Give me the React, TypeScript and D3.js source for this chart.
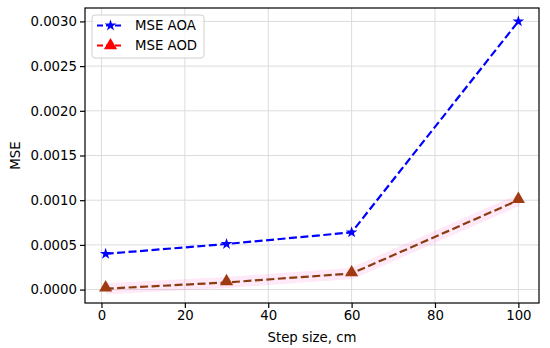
import React, { useEffect, useRef } from 'react';
import * as d3 from 'd3';

// step sizes (cm)
const steps = [1, 30, 60, 100];
const mseAoa = [0.0004, 0.00051, 0.00064, 0.003];
const mseAod = [0.00001, 0.00008, 0.00018, 0.001];
const xTicks = [0, 20, 40, 60, 80, 100];
const yTicks = [0, 0.0005, 0.001, 0.0015, 0.002, 0.0025, 0.003];

export default function App() {
  const ref = useRef<SVGSVGElement>(null);

  useEffect(() => {
    const width = 550, height = 348;
    const margin = { top: 8, right: 11, bottom: 45, left: 85 };
    const svg = d3.select(ref.current);
    svg.selectAll('*').remove();

    const x = d3.scaleLinear().domain([-3.95, 104.95]).range([margin.left, width - margin.right]);
    const y = d3.scaleLinear().domain([-0.00015, 0.00315]).range([height - margin.bottom, margin.top]);
    const font = 'DejaVu Sans, sans-serif';
    const fs = 13.3;

    svg.append('rect').attr('width', width).attr('height', height).attr('fill', 'white');

    // grid
    const grid = svg.append('g').attr('stroke', '#dcdcdc').attr('stroke-width', 1);
    xTicks.forEach(t => grid.append('line')
      .attr('x1', x(t)).attr('x2', x(t)).attr('y1', margin.top).attr('y2', height - margin.bottom));
    yTicks.forEach(t => grid.append('line')
      .attr('y1', y(t)).attr('y2', y(t)).attr('x1', margin.left).attr('x2', width - margin.right));

    // axes
    const xAxis = svg.append('g')
      .attr('transform', `translate(0,${height - margin.bottom})`)
      .call(d3.axisBottom(x).tickValues(xTicks).tickSize(5).tickPadding(3).tickSizeOuter(0));
    const yAxis = svg.append('g')
      .attr('transform', `translate(${margin.left},0)`)
      .call(d3.axisLeft(y).tickValues(yTicks).tickFormat(d3.format('.4f')).tickSize(5).tickPadding(3).tickSizeOuter(0));
    [xAxis, yAxis].forEach(g => {
      g.select('.domain').remove();
      g.selectAll('text').attr('font-family', font).attr('font-size', fs).attr('fill', '#000');
      g.selectAll('line').attr('stroke', '#000').attr('stroke-width', 1.2);
    });

    const line = d3.line<number>().x((_, i) => x(steps[i])).y(d => y(d));

    // pink glow behind AOD
    svg.append('path').datum(mseAod).attr('d', line)
      .attr('fill', 'none').attr('stroke', '#ff66cc').attr('stroke-opacity', 0.15)
      .attr('stroke-width', 11);

    svg.append('path').datum(mseAoa).attr('d', line)
      .attr('fill', 'none').attr('stroke', '#0000ff').attr('stroke-width', 2.2)
      .attr('stroke-dasharray', '8,3.5');
    svg.append('path').datum(mseAod).attr('d', line)
      .attr('fill', 'none').attr('stroke', '#8b3d12').attr('stroke-width', 2.2)
      .attr('stroke-dasharray', '8,3.5');

    const star = d3.symbol().type(d3.symbolStar).size(42);
    const tri = d3.symbol().type(d3.symbolTriangle).size(75);
    svg.append('g').selectAll('path').data(mseAoa).join('path')
      .attr('d', star).attr('fill', '#0000ff')
      .attr('transform', (d, i) => `translate(${x(steps[i])},${y(d)})`);
    svg.append('g').selectAll('path').data(mseAod).join('path')
      .attr('d', tri).attr('fill', '#a03a10')
      .attr('transform', (d, i) => `translate(${x(steps[i])},${y(d) - 1})`);

    // frame
    svg.append('rect').attr('x', margin.left).attr('y', margin.top)
      .attr('width', width - margin.left - margin.right).attr('height', height - margin.top - margin.bottom)
      .attr('fill', 'none').attr('stroke', '#000').attr('stroke-width', 1.2);

    // labels
    svg.append('text').attr('x', (margin.left + width - margin.right) / 2).attr('y', 342)
      .attr('text-anchor', 'middle').attr('font-family', font).attr('font-size', fs).text('Step size, cm');
    svg.append('text').attr('transform', `translate(20,${(margin.top + height - margin.bottom) / 2}) rotate(-90)`)
      .attr('text-anchor', 'middle').attr('font-family', font).attr('font-size', fs).text('MSE');

    // legend
    const lg = svg.append('g').attr('transform', 'translate(92,15)');
    lg.append('rect').attr('width', 112).attr('height', 43).attr('rx', 3)
      .attr('fill', 'white').attr('fill-opacity', 0.8).attr('stroke', '#d0d0d0');
    const items = [
      { label: 'MSE AOA', color: '#0000ff', sym: star },
      { label: 'MSE AOD', color: '#ff0000', sym: tri },
    ];
    items.forEach((it, i) => {
      const yy = 10.5 + i * 20;
      lg.append('line').attr('x1', 5).attr('x2', 32).attr('y1', yy).attr('y2', yy)
        .attr('stroke', it.color).attr('stroke-width', 2.2).attr('stroke-dasharray', '6,3');
      lg.append('path').attr('d', it.sym).attr('fill', it.color).attr('transform', `translate(18.5,${yy})`);
      lg.append('text').attr('x', 43).attr('y', yy).attr('dy', '0.35em')
        .attr('font-family', font).attr('font-size', fs).text(it.label);
    });
  }, []);

  return <svg ref={ref} width={550} height={348} style={{ display: 'block', position: 'absolute', left: 0, top: 0 }} />;
}
